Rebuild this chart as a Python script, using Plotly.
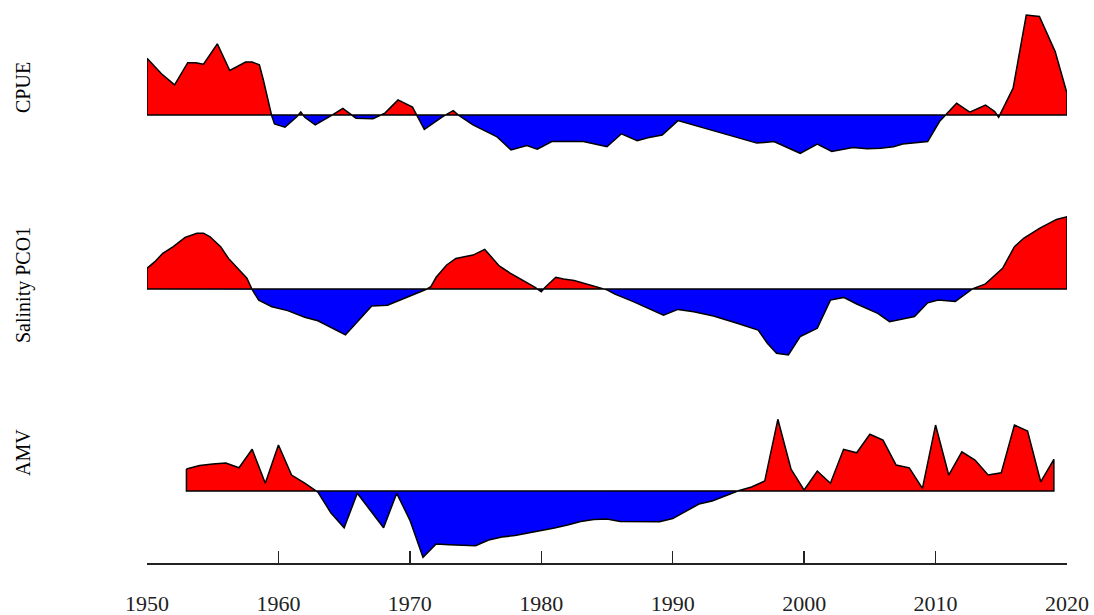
import numpy as np
import plotly.graph_objects as go

# ---------------- data ----------------
cpue_year = [1950.0, 1951.1, 1952.1, 1953.1, 1953.7, 1954.3, 1955.35, 1956.3, 1957.5, 1958.0,
             1958.55, 1958.85, 1959.5, 1959.7, 1960.5, 1961.4, 1961.7, 1962.0, 1962.8, 1963.9,
             1964.9, 1965.4, 1965.9, 1967.2, 1967.7, 1968.1, 1969.1, 1970.2, 1971.1, 1972.5,
             1973.3, 1973.7, 1974.8, 1976.0, 1976.6, 1977.7, 1978.9, 1979.7, 1980.8, 1983.2,
             1984.5, 1985.0, 1986.1, 1987.3, 1988.1, 1989.2, 1990.4, 1991.3, 1993.9, 1996.4,
             1997.7, 1999.7, 2001.0, 2002.1, 2003.7, 2004.8, 2005.8, 2006.8, 2007.5, 2009.4,
             2010.3, 2011.6, 2012.6, 2013.8, 2014.5, 2014.8, 2015.9, 2016.9, 2017.9, 2019.1,
             2019.7, 2020.0]
cpue_value = [1.89, 1.37, 1.00, 1.74, 1.74, 1.69, 2.37, 1.48, 1.76, 1.76,
              1.67, 1.17, -0.05, -0.30, -0.41, -0.06, 0.10, -0.08, -0.33, -0.06,
              0.22, 0.06, -0.11, -0.13, -0.03, 0.06, 0.50, 0.26, -0.48, -0.06,
              0.14, -0.01, -0.33, -0.59, -0.72, -1.17, -1.02, -1.14, -0.89, -0.89,
              -1.03, -1.06, -0.63, -0.86, -0.76, -0.67, -0.19, -0.30, -0.61, -0.94,
              -0.89, -1.28, -0.97, -1.22, -1.09, -1.13, -1.11, -1.06, -0.97, -0.89,
              -0.22, 0.39, 0.09, 0.33, 0.11, -0.08, 0.89, 3.33, 3.28, 2.11,
              1.17, 0.72]

sal_year = [1950.0, 1950.6, 1951.2, 1952.0, 1952.9, 1953.8, 1954.3, 1954.8, 1955.6, 1956.2,
            1957.6, 1958.0, 1958.5, 1959.5, 1960.7, 1962.0, 1963.0, 1964.0, 1965.1, 1967.1,
            1968.3, 1970.2, 1971.2, 1971.6, 1972.0, 1972.8, 1973.5, 1974.8, 1975.7, 1976.8,
            1977.6, 1979.5, 1980.0, 1980.3, 1981.1, 1981.7, 1982.5, 1984.2, 1985.0, 1985.6,
            1987.0, 1989.3, 1990.4, 1991.6, 1993.1, 1994.9, 1996.5, 1997.2, 1997.9, 1998.8,
            1999.7, 2001.0, 2002.0, 2003.0, 2004.0, 2005.6, 2006.5, 2008.4, 2009.4, 2010.2,
            2011.5, 2012.8, 2013.8, 2015.1, 2016.0, 2016.7, 2017.9, 2019.2, 2020.0]
sal_value = [0.69, 0.91, 1.19, 1.41, 1.72, 1.86, 1.86, 1.74, 1.41, 1.02,
             0.36, -0.02, -0.37, -0.59, -0.72, -0.94, -1.06, -1.29, -1.53, -0.57,
             -0.54, -0.20, -0.03, 0.08, 0.39, 0.80, 1.02, 1.13, 1.32, 0.77,
             0.54, 0.06, -0.09, 0.06, 0.39, 0.33, 0.28, 0.08, -0.03, -0.17,
             -0.42, -0.87, -0.68, -0.76, -0.90, -1.14, -1.37, -1.81, -2.14, -2.20,
             -1.59, -1.31, -0.37, -0.28, -0.50, -0.81, -1.09, -0.92, -0.46, -0.37,
             -0.42, 0.00, 0.17, 0.69, 1.41, 1.69, 2.02, 2.32, 2.41]

amv_year = list(range(1953, 2020))
amv_value = [0.088, 0.102, 0.108, 0.112, 0.093, 0.167, 0.031, 0.184, 0.064, 0.032,
             -0.004, -0.088, -0.147, -0.009, -0.078, -0.147, -0.009, -0.116, -0.265, -0.212,
             -0.215, -0.216, -0.219, -0.196, -0.184, -0.178, -0.168, -0.160, -0.148, -0.136,
             -0.122, -0.114, -0.112, -0.122, -0.123, -0.123, -0.123, -0.110, -0.080, -0.052,
             -0.040, -0.020, 0.001, 0.016, 0.040, 0.287, 0.088, 0.004, 0.080, 0.031,
             0.167, 0.153, 0.227, 0.204, 0.104, 0.093, 0.011, 0.264, 0.064, 0.157,
             0.124, 0.064, 0.073, 0.264, 0.240, 0.037, 0.127]

panel_labels = ["CPUE", "Salinity PCO1", "AMV"]
tick_years = [1950, 1960, 1970, 1980, 1990, 2000, 2010, 2020]

# ---------------- layout constants (viewport pixels) ----------------
W, H = 1094, 615
PLOT_LEFT, PLOT_RIGHT = 147, 1067
PLOT_TOP, PLOT_BOTTOM = 10, 563
ML, MR, MT, MB = PLOT_LEFT, W - PLOT_RIGHT, PLOT_TOP, H - PLOT_BOTTOM
plot_h = PLOT_BOTTOM - PLOT_TOP
plot_w = PLOT_RIGHT - PLOT_LEFT
panel_px = [(15, 153.3), (216.7, 355), (419.3, 557.3)]   # data extent (top, bottom)
label_y_px = [88, 285, 453]
label_x_px = 23

def frac(ypx):
    return (PLOT_BOTTOM - ypx) / plot_h

def split_parts(x, y):
    xs, ys = [x[0]], [y[0]]
    for i in range(1, len(x)):
        if y[i - 1] * y[i] < 0:
            t = y[i - 1] / (y[i - 1] - y[i])
            xs.append(x[i - 1] + t * (x[i] - x[i - 1]))
            ys.append(0.0)
        xs.append(x[i])
        ys.append(y[i])
    return np.array(xs), np.array(ys)

fig = go.Figure()
series = [(cpue_year, cpue_value), (sal_year, sal_value), (amv_year, amv_value)]
for k, (yr, val) in enumerate(series):
    ya = "y" if k == 0 else f"y{k+1}"
    xs, ys = split_parts(list(map(float, yr)), list(map(float, val)))
    fig.add_trace(go.Scatter(x=xs, y=np.maximum(ys, 0), yaxis=ya, mode="lines",
                             line=dict(width=0, color="red"), fill="tozeroy",
                             fillcolor="#FF0000", hoverinfo="skip", showlegend=False))
    fig.add_trace(go.Scatter(x=xs, y=np.minimum(ys, 0), yaxis=ya, mode="lines",
                             line=dict(width=0, color="blue"), fill="tozeroy",
                             fillcolor="#0000FF", hoverinfo="skip", showlegend=False))
    ox = list(xs) + [xs[-1], xs[0], xs[0]]
    oy = list(ys) + [0.0, 0.0, ys[0]]
    fig.add_trace(go.Scatter(x=ox, y=oy, yaxis=ya, mode="lines",
                             line=dict(width=1.5, color="black"),
                             hoverinfo="skip", showlegend=False))

    top, bot = panel_px[k]
    vmin = min(0.0, float(np.min(ys)))
    vmax = max(0.0, float(np.max(ys)))
    per_px = (vmax - vmin) / (bot - top)
    pad = 3
    rng = [vmin - pad * per_px, vmax + pad * per_px]
    dom = [frac(bot + pad), frac(top - pad)]
    key = "yaxis" if k == 0 else f"yaxis{k+1}"
    fig.layout[key] = dict(domain=dom, range=rng, visible=False, anchor="x", fixedrange=True)

    fig.add_annotation(text=panel_labels[k], xref="paper", yref="paper",
                       x=(label_x_px - PLOT_LEFT) / plot_w, y=frac(label_y_px[k]),
                       xanchor="center", yanchor="middle", textangle=-90, showarrow=False,
                       font=dict(family="Liberation Serif", size=20, color="black"))

fig.update_layout(
    width=W, height=H,
    margin=dict(l=ML, r=MR, t=MT, b=MB, autoexpand=False),
    paper_bgcolor="white", plot_bgcolor="white",
    hovermode=False,
    xaxis=dict(range=[1950, 2020], anchor="free", position=0, showgrid=False, zeroline=False,
               automargin=False, fixedrange=True,
               showline=True, linecolor="#222222", linewidth=1.5,
               ticks="inside", ticklen=12, tickwidth=1.5, tickcolor="#222222",
               tickvals=tick_years, ticktext=[str(t) for t in tick_years],
               ticklabelstandoff=20,
               tickfont=dict(family="Liberation Serif", size=22, color="#222222")),
)

fig.write_html("out.html", config={"displayModeBar": False, "staticPlot": True},
               post_script="document.body.style.margin='0px';")
